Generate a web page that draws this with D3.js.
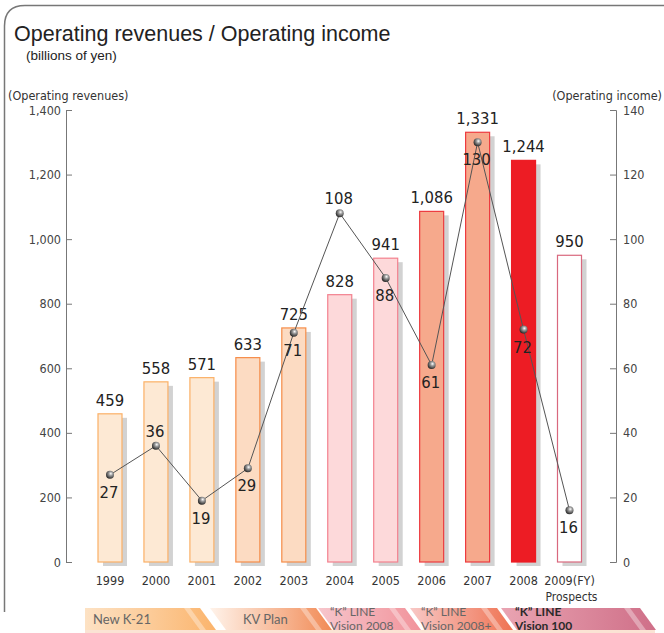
<!DOCTYPE html>
<html>
<head>
<meta charset="utf-8">
<script src="https://cdn.jsdelivr.net/npm/d3@7"></script>
<style>
  body { margin:0; background:#fff; }
  svg { display:block; }
  .cond { font-family:"Liberation Sans Narrow","DejaVu Sans Condensed",sans-serif; }
</style>
</head>
<body>
<div id="chart"></div>
<script>
const years = ["1999","2000","2001","2002","2003","2004","2005","2006","2007","2008","2009(FY)"]
const revenues = [459,558,571,633,725,828,941,1086,1331,1244,950]
const income = [27,36,19,29,71,108,88,61,130,72,16]
const incomeAbove = [false,true,false,false,false,true,false,false,false,false,false]
const leftTicks = [0,200,400,600,800,1000,1200,1400]
const rightTicks = [0,20,40,60,80,100,120,140]
const plans = ["New K-21","KV Plan","“K” LINE|Vision 2008","“K” LINE|Vision 2008+","“K” LINE|Vision 100"]

// bar styling by year group
const barFill = ["#fde9d4","#fde9d4","#fde9d4","#fcdbc2","#fcdbc2","#fdd9da","#fdd9da","#f6a98c","#f6a98c","#ed1c24","#ffffff"]
const barStroke = ["#fbb066","#fbb066","#fbb066","#f68c48","#f68c48","#f3808e","#f3808e","#ed3b3f","#ed3b3f","#ed1c24","#d9687e"]

const W = 664, H = 633
const svg = d3.select("#chart").append("svg").attr("width", W).attr("height", H)

// frame
svg.append("path")
  .attr("d","M4.5,612 V26 Q4.5,5.5 25,5.5 H664")
  .attr("fill","none").attr("stroke","#777").attr("stroke-width",1.5)

svg.append("text").attr("x",14).attr("y",41)
  .style("font-family","Liberation Sans, Arial, sans-serif").style("font-size","21.5px").attr("fill","#222")
  .text("Operating revenues / Operating income")
svg.append("text").attr("x",26).attr("y",60)
  .style("font-family","Liberation Sans, Arial, sans-serif").style("font-size","13.5px").attr("fill","#222")
  .text("(billions of yen)")

const x = d3.scalePoint().domain(years).range([110, 569.5])
const yL = d3.scaleLinear().domain([0,1400]).range([562,110])
const yR = d3.scaleLinear().domain([0,140]).range([562,110])
const bw = 24

// axis titles
svg.append("text").attr("class","cond").attr("x",8).attr("y",100)
  .style("font-size","12.5px").attr("fill","#333").text("(Operating revenues)")
svg.append("text").attr("class","cond").attr("x",662).attr("y",100).attr("text-anchor","end")
  .style("font-size","12.5px").attr("fill","#333").text("(Operating income)")

// left axis
const gl = svg.append("g").attr("transform","translate(66,0)")
  .call(d3.axisLeft(yL).tickValues(leftTicks).tickFormat(d3.format(",")).tickSize(-6).tickPadding(5))
gl.selectAll("path,line").attr("stroke","#777")
gl.selectAll("text").attr("class","cond").style("font-size","12.5px").attr("fill","#444").attr("font-family",null)

// right axis
const gr = svg.append("g").attr("transform","translate(616,0)")
  .call(d3.axisRight(yR).tickValues(rightTicks).tickSize(-6).tickPadding(7))
gr.selectAll("path,line").attr("stroke","#777")
gr.selectAll("text").attr("class","cond").style("font-size","12.5px").attr("fill","#444").attr("font-family",null)

// bar shadows
svg.selectAll("rect.shadow")
  .data(revenues)
  .enter()
  .append("rect")
    .attr("class","shadow")
    .attr("x",(d,i)=>x(years[i]) - bw/2 + 5)
    .attr("y",d=>yL(d) + 4)
    .attr("width",bw)
    .attr("height",d=>yL(0) - yL(d))
    .attr("fill","#d2d2d2")

// bars
svg.selectAll("rect.bar")
  .data(revenues)
  .enter()
  .append("rect")
    .attr("class","bar")
    .attr("x",(d,i)=>x(years[i]) - bw/2)
    .attr("y",d=>yL(d))
    .attr("width",bw)
    .attr("height",d=>yL(0) - yL(d))
    .attr("fill",(d,i)=>barFill[i])
    .attr("stroke",(d,i)=>barStroke[i])
    .attr("stroke-width",1.2)

// revenue labels
svg.selectAll("text.rev")
  .data(revenues)
  .enter()
  .append("text")
    .attr("class","cond rev")
    .attr("x",(d,i)=>x(years[i]))
    .attr("y",d=>yL(d) - 8)
    .attr("text-anchor","middle")
    .style("font-size","16.5px")
    .attr("fill","#222")
    .text(d=>d3.format(",")(d))

// year labels
svg.selectAll("text.year")
  .data(years)
  .enter()
  .append("text")
    .attr("class","cond year")
    .attr("x",d=>x(d))
    .attr("y",585)
    .attr("text-anchor","middle")
    .style("font-size","12.5px")
    .attr("fill","#333")
    .text(d=>d)
svg.append("text").attr("class","cond").attr("x",x(years[10]) + 2).attr("y",601)
  .attr("text-anchor","middle").style("font-size","12px").attr("fill","#333").text("Prospects")

// income line
const defs = svg.append("defs")
const rg = defs.append("radialGradient").attr("id","ball").attr("cx","0.6").attr("cy","0.35").attr("r","0.7")
rg.append("stop").attr("offset","0").attr("stop-color","#ffffff")
rg.append("stop").attr("offset","0.35").attr("stop-color","#9a9a9a")
rg.append("stop").attr("offset","1").attr("stop-color","#1a1a1a")

svg.append("path")
  .datum(income)
  .attr("d", d3.line().x((d,i)=>x(years[i])).y(d=>yR(d)))
  .attr("fill","none")
  .attr("stroke","#555")
  .attr("stroke-width",1)

svg.selectAll("circle.pt")
  .data(income)
  .enter()
  .append("circle")
    .attr("class","pt")
    .attr("cx",(d,i)=>x(years[i]))
    .attr("cy",d=>yR(d))
    .attr("r",4)
    .attr("fill","url(#ball)")

svg.selectAll("text.inc")
  .data(income)
  .enter()
  .append("text")
    .attr("class","cond inc")
    .attr("x",(d,i)=>x(years[i]) - 1)
    .attr("y",(d,i)=>incomeAbove[i] ? yR(d) - 9 : yR(d) + 23)
    .attr("text-anchor","middle")
    .style("font-size","16.5px")
    .attr("fill","#222")
    .text(d=>d)

// plan band
const bandTop = 608, bandBot = 630
const segs = [
  {x0:85, x1:200, c0:"#fde2c4", c1:"#fbb46c"},
  {x0:210, x1:316, c0:"#fff3ea", c1:"#f18a55"},
  {x0:318, x1:405, c0:"#f7c6cc", c1:"#f1939b"},
  {x0:410, x1:497, c0:"#f8c8c6", c1:"#ef7352"},
  {x0:501, x1:640, c0:"#e9a4b2", c1:"#cf6f88"}
]
const sl = 16
segs.forEach((s,i)=>{
  const gid = "seg"+i
  const lg = defs.append("linearGradient").attr("id",gid)
  lg.append("stop").attr("offset","0").attr("stop-color",s.c0)
  lg.append("stop").attr("offset","1").attr("stop-color",s.c1)
  const left = i == 0 ? `M${s.x0},${bandTop} L${s.x0},${bandBot}` : `M${s.x0},${bandTop} L${s.x0+sl},${bandBot}`
  svg.append("path")
    .attr("d", left + ` L${s.x1+sl},${bandBot} L${s.x1},${bandTop} Z`)
    .attr("fill",`url(#${gid})`)
  // light stripe near right edge
  svg.append("path")
    .attr("d",`M${s.x1-16},${bandTop} L${s.x1-10},${bandTop} L${s.x1-10+sl},${bandBot} L${s.x1-16+sl},${bandBot} Z`)
    .attr("fill","#fff").attr("opacity",0.35)
})
svg.append("rect").attr("x",85).attr("y",bandBot).attr("width",570).attr("height",3).attr("fill","#fbe3d4")

const labelX = [93, 243, 330, 421, 515]
plans.forEach((p,i)=>{
  const lines = p.split("|")
  const bold = i == 4
  lines.forEach((s,j)=>{
    svg.append("text")
      .attr("x",labelX[i])
      .attr("y",lines.length == 1 ? 624 : 615.5 + j*14)
      .style("font-family","Lato, Open Sans, sans-serif")
      .style("font-size", lines.length == 1 ? "13px" : "12px")
      .style("font-weight", bold ? "700" : "400")
      .attr("fill", bold ? "#2a2a2a" : "#666")
      .text(s)
  })
})
</script>
</body>
</html>
